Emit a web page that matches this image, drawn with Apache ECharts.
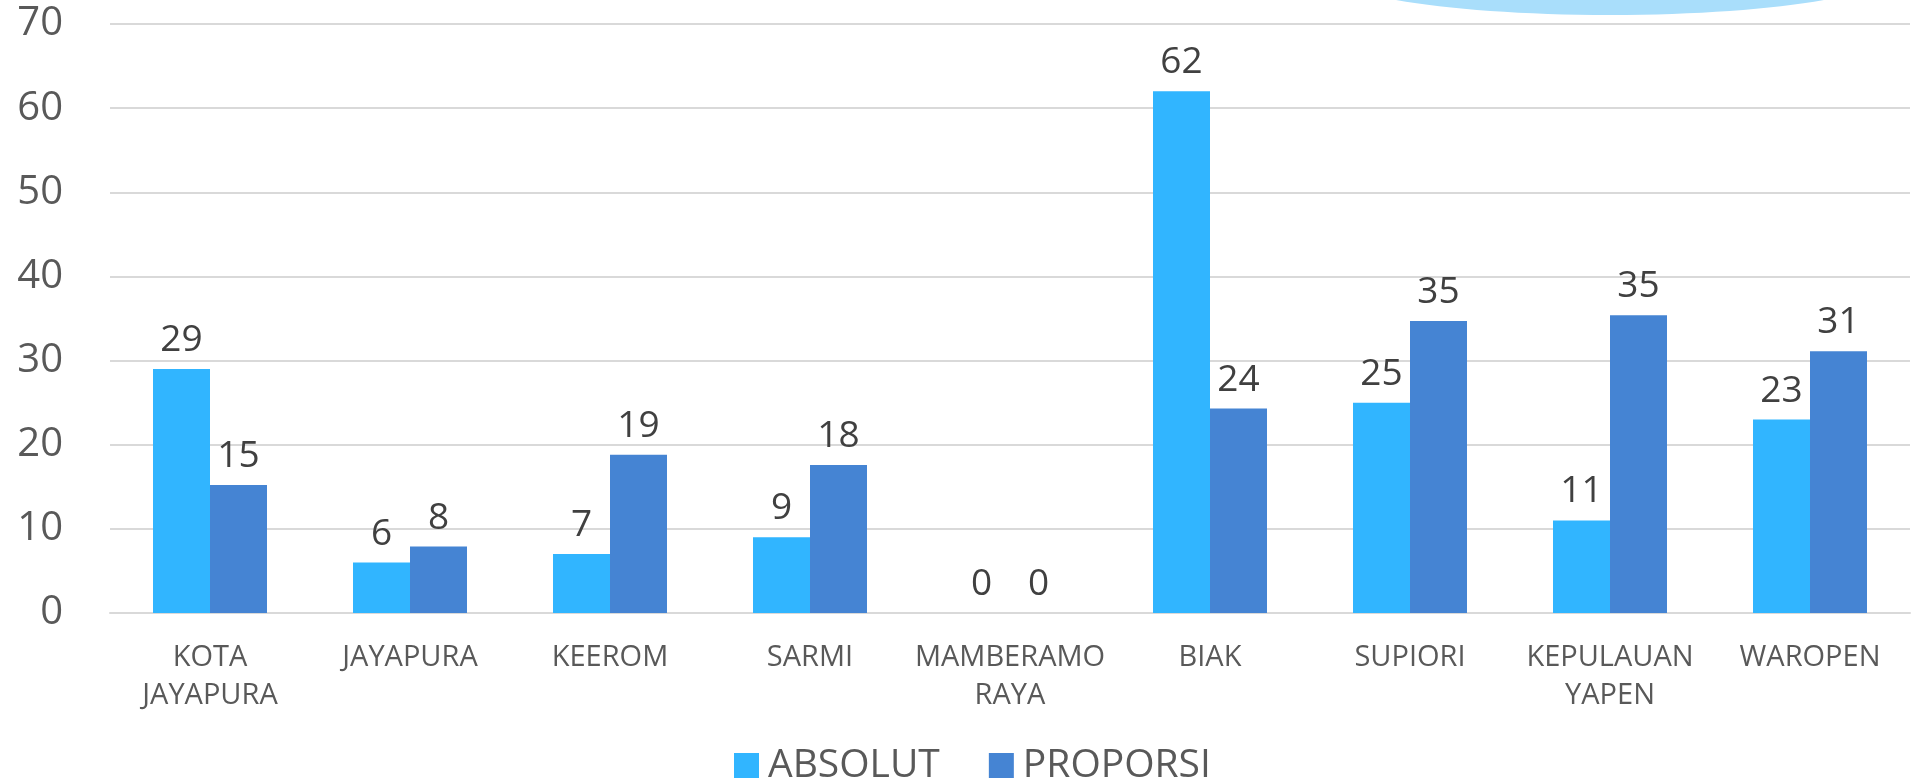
<!DOCTYPE html>
<html>
<head>
<meta charset="utf-8">
<script src="https://cdn.jsdelivr.net/npm/echarts@6/dist/echarts.min.js"></script>
<style>
html, body { margin: 0; padding: 0; background: #fff; }
#chart { width: 1918px; height: 779px; }
</style>
</head>
<body>
<div id="chart"></div>
<script>
var categories = ["KOTA JAYAPURA", "JAYAPURA", "KEEROM", "SARMI", "MAMBERAMO RAYA", "BIAK", "SUPIORI", "KEPULAUAN YAPEN", "WAROPEN"];
var absolut = [29, 6, 7, 9, 0, 62, 25, 11, 23];
var proporsi = [15.2, 7.9, 18.8, 17.6, 0, 24.3, 34.7, 35.4, 31.1];
var yTicks = [0, 10, 20, 30, 40, 50, 60, 70];

var font = "'Open Sans', sans-serif";
var color = ["#31b5ff", "#4584d3"];

function barLabel() {
    return {
        show: true,
        position: "top",
        distance: 10,
        color: "#404040",
        fontSize: 37,
        fontFamily: font,
        formatter: function (p) { return Math.round(p.value); }
    };
}

var chart = echarts.init(document.getElementById("chart"));
chart.setOption({
    color: color,
    animation: false,
    grid: { left: 110, right: 8, top: 24, bottom: 166 },
    legend: {
        data: ["ABSOLUT", "PROPORSI"],
        left: 729,
        top: 741,
        icon: "rect",
        itemWidth: 25,
        itemHeight: 25,
        itemGap: 49,
        textStyle: { color: "#595959", fontSize: 39, fontFamily: font, padding: [0, 0, 0, 4] }
    },
    graphic: [
        {
            type: "ellipse",
            silent: true,
            shape: { cx: 1610, cy: -28, rx: 282, ry: 43 },
            style: { fill: "#a9defb" }
        }
    ],
    xAxis: {
        type: "category",
        data: categories,
        axisLine: { lineStyle: { color: "#d9d9d9", width: 2 } },
        axisTick: { show: false },
        axisLabel: {
            interval: 0,
            margin: 26,
            color: "#595959",
            fontSize: 29,
            lineHeight: 38,
            fontFamily: font,
            formatter: function (v) { return v.replace(" ", "\n"); }
        }
    },
    yAxis: {
        type: "value",
        min: yTicks[0],
        max: yTicks[yTicks.length - 1],
        interval: 10,
        axisLine: { show: false },
        axisTick: { show: false },
        splitLine: { lineStyle: { color: "#d9d9d9", width: 2 } },
        axisLabel: { color: "#595959", fontSize: 40, fontFamily: font, margin: 47 }
    },
    series: [
        {
            name: "ABSOLUT",
            type: "bar",
            data: absolut,
            barGap: "0%",
            barCategoryGap: "43%",
            label: barLabel()
        },
        {
            name: "PROPORSI",
            type: "bar",
            data: proporsi,
            label: barLabel()
        }
    ]
});
</script>
</body>
</html>
